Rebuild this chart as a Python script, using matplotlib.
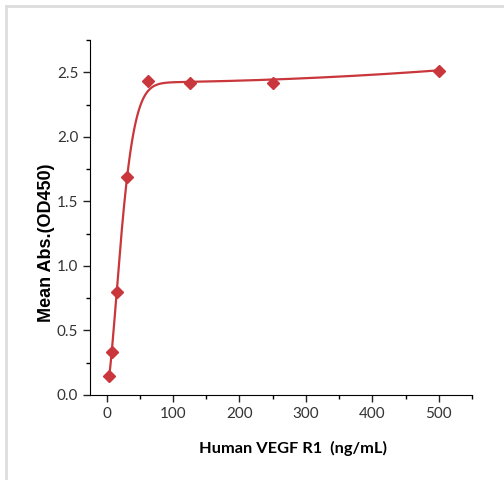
import matplotlib
matplotlib.use("Agg")
import matplotlib.pyplot as plt
import numpy as np
from matplotlib.ticker import MultipleLocator, FormatStrFormatter

# data
conc = [3.9, 7.8, 15.6, 31.25, 62.5, 125, 250, 500]
od450 = [0.15, 0.33, 0.80, 1.69, 2.43, 2.42, 2.42, 2.51]

x_label = "Human VEGF R1  (ng/mL)"
y_label = "Mean Abs.(OD450)"
red = "#c9363b"

# fitted curve parameters
fit_top = 2.38
fit_bottom = 0.04
fit_c = 27.8
fit_b = 1.58
fit_e = 3.8e-7

xf = np.linspace(conc[0], conc[-1], 600)
yf = fit_top * (1 - np.exp(-(xf / fit_c) ** fit_b)) + fit_bottom + fit_e * xf ** 2

fig = plt.figure(figsize=(5.04, 4.8), dpi=100)
ax = fig.add_axes([90 / 504, 85 / 480, 382 / 504, 355 / 480])

ax.plot(xf, yf, color=red, lw=1.6, zorder=2)
ax.plot(conc, od450, ls="none", marker="D", ms=6.5, color=red, zorder=3)

ax.set_xlim(-25, 550)
ax.set_ylim(0, 2.75)
ax.xaxis.set_major_locator(MultipleLocator(100))
ax.xaxis.set_minor_locator(MultipleLocator(50))
ax.yaxis.set_major_locator(MultipleLocator(0.5))
ax.yaxis.set_minor_locator(MultipleLocator(0.25))
ax.yaxis.set_major_formatter(FormatStrFormatter("%.1f"))
ax.spines["top"].set_visible(False)
ax.spines["right"].set_visible(False)
ax.tick_params(which="major", length=5, width=1, labelsize=11, colors="#222222")
ax.tick_params(which="minor", length=3, width=1)
for lab in ax.get_xticklabels() + ax.get_yticklabels():
    lab.set_family("Lato")
    lab.set_color("#333333")
ax.set_xlabel(x_label, fontsize=11.8, fontweight="bold", family="Lato")
ax.set_ylabel(y_label, fontsize=13, fontweight="bold", family="Liberation Sans")
ax.xaxis.set_label_coords(0.531, -0.128)
ax.yaxis.set_label_coords(-0.092, 0.43)

# light frame lines on the left and top of the picture
fig.add_artist(plt.Line2D([6 / 504, 6 / 504], [0, 1 - 6 / 480], color="#dddddd", lw=2))
fig.add_artist(plt.Line2D([6 / 504, 1], [1 - 6 / 480, 1 - 6 / 480], color="#dddddd", lw=2))

fig.savefig("out.png", dpi=100)
